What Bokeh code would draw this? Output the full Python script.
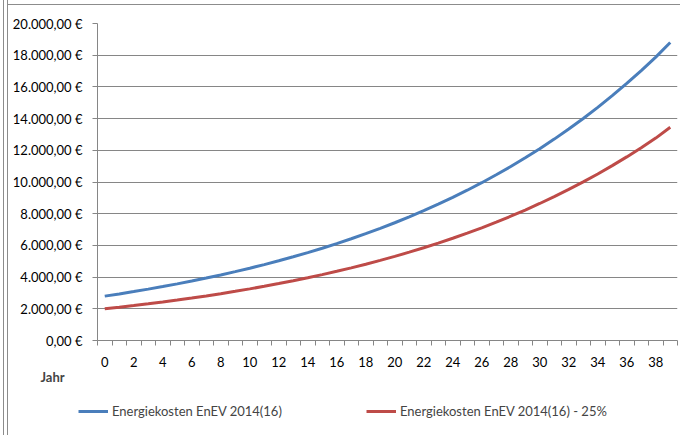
from bokeh.plotting import figure
from bokeh.layouts import column
from bokeh.models import FixedTicker, Legend, LegendItem, Title
from bokeh.embed import file_html
from bokeh.resources import INLINE

years = list(range(40))
kosten = [2800, 2940, 3087, 3241, 3403, 3574, 3752, 3940, 4137, 4344,
          4561, 4789, 5028, 5280, 5544, 5821, 6112, 6418, 6739, 7075,
          7429, 7801, 8191, 8600, 9030, 9482, 9956, 10454, 10976, 11525,
          12101, 12706, 13342, 14009, 14709, 15445, 16217, 17028, 17879, 18800]
kosten_25 = [2000, 2100, 2205, 2315, 2431, 2553, 2680, 2814, 2955, 3103,
             3258, 3421, 3592, 3771, 3960, 4158, 4366, 4584, 4813, 5054,
             5307, 5572, 5851, 6143, 6450, 6773, 7111, 7467, 7840, 8232,
             8644, 9076, 9530, 10006, 10507, 11032, 11584, 12163, 12771, 13450]
y_ticks = [0, 2000, 4000, 6000, 8000, 10000, 12000, 14000, 16000, 18000, 20000]
y_labels = ["0,00 €", "2.000,00 €", "4.000,00 €", "6.000,00 €", "8.000,00 €",
            "10.000,00 €", "12.000,00 €", "14.000,00 €", "16.000,00 €",
            "18.000,00 €", "20.000,00 €"]
x_labels = [str(y) for y in years[::2]]
x_title = "Jahr"
series_names = ["Energiekosten EnEV 2014(16)", "Energiekosten EnEV 2014(16) - 25%"]
series_values = [kosten, kosten_25]
colors = ["#4A7EBB", "#BE4B48"]

FONT = "Lato"
GRID = "#868686"
FRAME = "#8c8c8c"

p = figure(width=680, height=395, x_range=(-0.5, 39.5), y_range=(0, 20000),
           output_backend="svg", toolbar_location=None,
           min_border_left=97, min_border_right=3, min_border_top=23,
           min_border_bottom=55)
p.outline_line_color = None
p.background_fill_color = "white"
p.border_fill_alpha = 0

for vals, color in zip(series_values, colors):
    p.line(years, vals, line_color=color, line_width=3)

# y axis
p.yaxis.ticker = FixedTicker(ticks=y_ticks)
p.yaxis.major_label_overrides = {t: l for t, l in zip(y_ticks, y_labels)}
p.yaxis.minor_tick_line_color = None
p.yaxis.major_tick_in = 0
p.yaxis.major_tick_out = 5
p.yaxis.major_tick_line_color = GRID
p.yaxis.axis_line_color = GRID
p.yaxis.major_label_standoff = 10
p.yaxis.major_label_text_font = FONT
p.yaxis.major_label_text_font_size = "13px"
p.yaxis.major_label_text_color = "black"

# x axis
p.xaxis.ticker = FixedTicker(ticks=years[::2],
                             minor_ticks=[y - 0.5 for y in years] + [years[-1] + 0.5])
p.xaxis.major_label_overrides = {t: l for t, l in zip(years[::2], x_labels)}
p.xaxis.major_tick_in = 0
p.xaxis.major_tick_out = 0
p.xaxis.minor_tick_in = 0
p.xaxis.minor_tick_out = 5
p.xaxis.minor_tick_line_color = GRID
p.xaxis.axis_line_color = GRID
p.xaxis.major_label_standoff = 11
p.xaxis.major_label_text_font = FONT
p.xaxis.major_label_text_font_size = "13px"
p.xaxis.major_label_text_color = "black"

p.xgrid.grid_line_color = None
p.ygrid.grid_line_color = GRID
p.ygrid.ticker = FixedTicker(ticks=y_ticks)

p.add_layout(Title(text=x_title, align="left", offset=-57, standoff=-5,
                   text_font=FONT, text_font_size="13px",
                   text_font_style="bold"), "below")

# legend strip (series drawn out of view; only legend is visible)
q = figure(width=680, height=40, x_range=(-0.5, 39.5), y_range=(-2, -1),
           output_backend="svg", toolbar_location=None,
           x_axis_location=None, y_axis_location=None,
           min_border_left=0, min_border_right=0, min_border_top=0,
           min_border_bottom=0)
q.grid.visible = False
q.outline_line_color = None
q.border_fill_alpha = 0
q.background_fill_alpha = 0

legend_x = [78, 366]
for name, vals, color, lx in zip(series_names, series_values, colors, legend_x):
    r = q.line(years, vals, line_color=color, line_width=3)
    q.add_layout(Legend(items=[LegendItem(label=name, renderers=[r])],
                        location=(lx, 16), glyph_width=30, glyph_height=14,
                        label_standoff=4, padding=0, margin=0,
                        border_line_color=None, background_fill_alpha=0,
                        label_text_font=FONT, label_text_font_size="13px"))

layout = column(p, column(q, spacing=0), spacing=0)
# thin grey frame lines of the surrounding chart area (left double line, top line)
g = f"linear-gradient({FRAME},{FRAME})"
layout.styles = {
    "background-color": "white",
    "background-image": f"{g}, {g}, {g}",
    "background-size": "1px 100%, 1px 100%, 100% 1px",
    "background-position": "3px 0px, 7px 0px, 7px 4px",
    "background-repeat": "no-repeat",
}

open("out.html", "w").write(file_html(layout, INLINE))
